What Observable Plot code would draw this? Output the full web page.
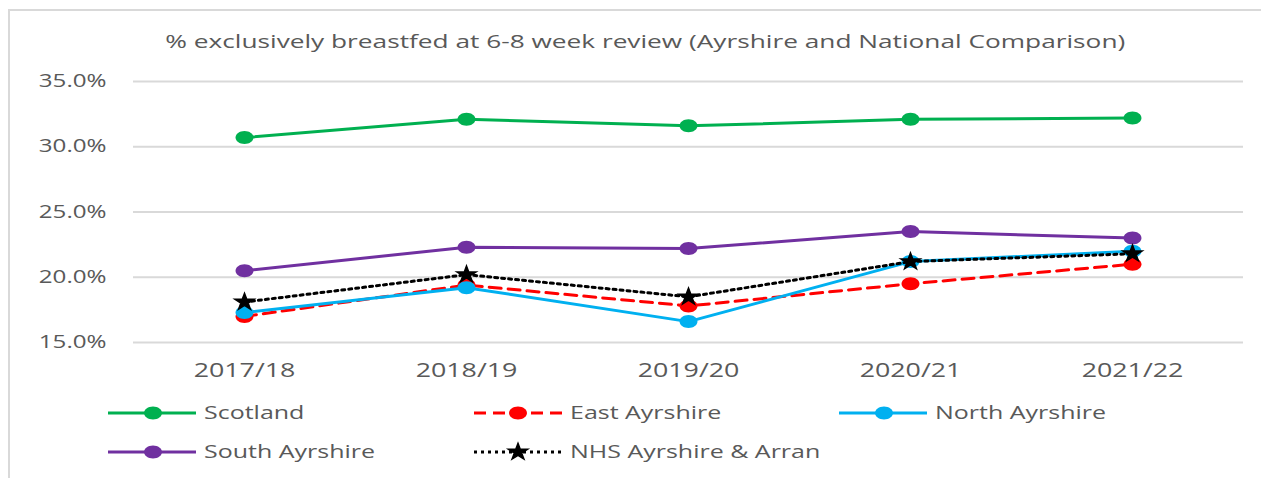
<!DOCTYPE html>
<html>
<head>
<meta charset="utf-8">
<script src="https://cdn.jsdelivr.net/npm/d3@7"></script>
<script src="https://cdn.jsdelivr.net/npm/@observablehq/plot@0.6"></script>
<style>
  html, body { margin: 0; padding: 0; background: #fff; }
  body { width: 1261px; height: 478px; position: relative; overflow: hidden; font-family: "Open Sans", sans-serif; color: #595959; }
  #frame { position: absolute; left: 8px; top: 9px; width: 1290px; height: 540px; border: 2px solid #d9d9d9; box-sizing: border-box; }
  #title { position: absolute; left: 15px; top: 29px; width: 1261px; text-align: center; font-size: 18px; white-space: nowrap; }
  #title span { display: inline-block; transform-origin: center; }
  #chart { position: absolute; left: 0; top: 0; }
  .leg { position: absolute; height: 24px; }
  .leg svg { position: absolute; left: 0; top: 0; }
  .leg span { position: absolute; top: -1px; font-size: 18.5px; white-space: nowrap; transform-origin: left center; line-height: 24px; }
</style>
</head>
<body>
<div id="frame"></div>
<div id="title"><span>% exclusively breastfed at 6-8 week review (Ayrshire and National Comparison)</span></div>
<div id="chart"></div>
<div id="legend"></div>
<script>
// ---- Data ----
const years = ["2017/18", "2018/19", "2019/20", "2020/21", "2021/22"];
const scotland        = [30.7, 32.1, 31.6, 32.1, 32.2];
const eastAyrshire    = [17.0, 19.4, 17.8, 19.5, 21.0];
const northAyrshire   = [17.3, 19.2, 16.6, 21.2, 22.0];
const southAyrshire   = [20.5, 22.3, 22.2, 23.5, 23.0];
const nhsAyrshireArran = [18.1, 20.2, 18.5, 21.2, 21.8];
const seriesNames  = ["Scotland", "East Ayrshire", "North Ayrshire", "South Ayrshire", "NHS Ayrshire & Arran"];
const seriesValues = [scotland, eastAyrshire, northAyrshire, southAyrshire, nhsAyrshireArran];
const yTicks = [15, 20, 25, 30, 35];

// ---- Styles ----
const seriesColors = ["#00b050", "#ff0000", "#00b0f0", "#7030a0", "#000000"];
const seriesDash   = [null, "12,7", null, null, "3,4"];
const seriesR      = [6.5, 6.5, 6.5, 6.5, 5.2];
const SX = 1.38; // horizontal stretch of the original picture

const ellipse = {
  draw(ctx, size) {
    const r = Math.sqrt(size / Math.PI), rx = r * SX, ry = r, k = 0.5523;
    ctx.moveTo(rx, 0);
    ctx.bezierCurveTo(rx, ry * k, rx * k, ry, 0, ry);
    ctx.bezierCurveTo(-rx * k, ry, -rx, ry * k, -rx, 0);
    ctx.bezierCurveTo(-rx, -ry * k, -rx * k, -ry, 0, -ry);
    ctx.bezierCurveTo(rx * k, -ry, rx, -ry * k, rx, 0);
    ctx.closePath();
  }
};
const star = {
  draw(ctx, size) {
    const w = {
      moveTo: (x, y) => ctx.moveTo(x * 1.15, y),
      lineTo: (x, y) => ctx.lineTo(x * 1.15, y),
      closePath: () => ctx.closePath()
    };
    d3.symbolStar.draw(w, size);
  }
};
const seriesSymbol = [ellipse, ellipse, ellipse, ellipse, star];

const data = seriesNames.flatMap((s, i) => years.map((y, j) => ({series: s, year: y, value: seriesValues[i][j]})));

const marks = [
  Plot.ruleY(yTicks, {stroke: "#d9d9d9", strokeWidth: 2}),
  Plot.axisY(yTicks, {tickSize: 0, tickPadding: 27, tickFormat: d => d.toFixed(1) + "%", fontSize: 17.5, label: null}),
  Plot.axisX({tickSize: 0, tickPadding: 20, fontSize: 20, label: null})
];
seriesNames.forEach((s, i) => {
  const d = data.filter(r => r.series === s);
  marks.push(Plot.line(d, {x: "year", y: "value", stroke: seriesColors[i], strokeWidth: 3,
    strokeDasharray: seriesDash[i] || undefined}));
  marks.push(Plot.dot(d, {x: "year", y: "value", fill: seriesColors[i], stroke: i === 4 ? "#000" : undefined,
    strokeWidth: i === 4 ? 1.5 : undefined, r: seriesR[i], symbol: seriesSymbol[i]}));
});

const chart = Plot.plot({
  width: 1261, height: 390,
  marginLeft: 133, marginRight: 18, marginTop: 81, marginBottom: 48,
  style: {fontFamily: "Open Sans", color: "#595959", background: "transparent", overflow: "visible"},
  x: {type: "point", domain: years, padding: 0.5},
  y: {domain: [15, 35]},
  marks
});
document.getElementById("chart").appendChild(chart);

// stretch tick labels horizontally, as in the picture
chart.querySelectorAll('g[aria-label="y-axis tick label"] text').forEach(t => {
  const L = t.getComputedTextLength();
  t.setAttribute("textLength", L * 1.38); t.setAttribute("lengthAdjust", "spacingAndGlyphs");
});
chart.querySelectorAll('g[aria-label="x-axis tick label"] text').forEach(t => {
  const L = t.getComputedTextLength();
  t.setAttribute("textLength", L * 1.34); t.setAttribute("lengthAdjust", "spacingAndGlyphs");
});

// title stretch to match picture width
const ts = document.querySelector("#title span");
ts.style.transform = `scaleX(${960 / ts.getBoundingClientRect().width})`;

// ---- Legend ----
const legendPos = [[107, 401], [473, 401], [838, 401], [107, 440], [473, 440]];
const legend = document.getElementById("legend");
seriesNames.forEach((s, i) => {
  const [lx, ly] = legendPos[i];
  const item = document.createElement("div");
  item.className = "leg";
  item.style.left = lx + "px"; item.style.top = ly + "px";
  const svg = d3.create("svg").attr("width", 92).attr("height", 24);
  svg.append("line").attr("x1", 1).attr("x2", 89).attr("y1", 12).attr("y2", 12)
    .attr("stroke", seriesColors[i]).attr("stroke-width", 3)
    .attr("stroke-dasharray", seriesDash[i]);
  const p = d3.path();
  const r = seriesR[i];
  seriesSymbol[i].draw(p, Math.PI * r * r);
  svg.append("path").attr("d", p.toString())
    .attr("transform", `translate(${i === 1 || i === 4 ? 45 : 46},12)`)
    .attr("fill", seriesColors[i])
    .attr("stroke", i === 4 ? "#000" : null).attr("stroke-width", i === 4 ? 1.5 : null);
  item.appendChild(svg.node());
  const span = document.createElement("span");
  span.textContent = s;
  span.style.left = "97px";
  span.style.transform = `scaleX(1.35)`;
  item.appendChild(span);
  legend.appendChild(item);
});
</script>
</body>
</html>
